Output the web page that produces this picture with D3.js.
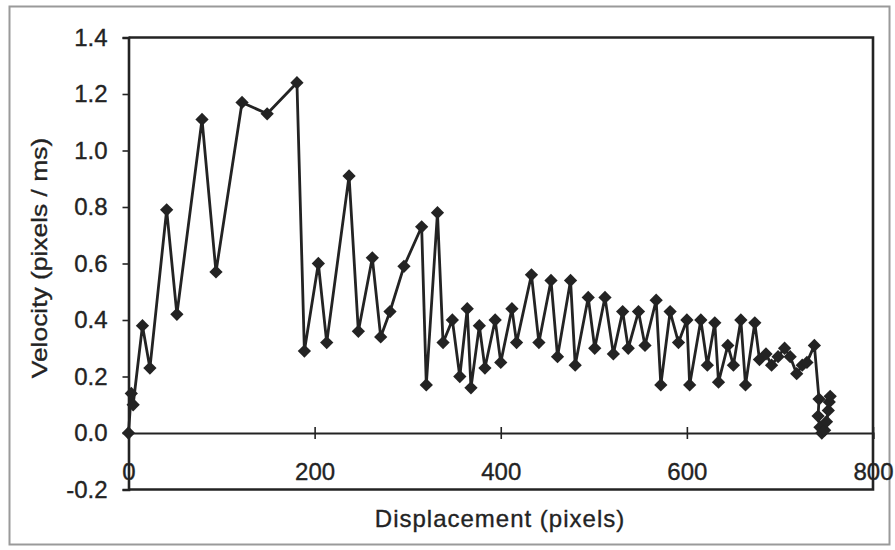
<!DOCTYPE html>
<html>
<head>
<meta charset="utf-8">
<script src="https://cdn.jsdelivr.net/npm/d3@7"></script>
<style>
  html, body { margin: 0; padding: 0; background: #fff; }
  svg { display: block; font-family: "Liberation Sans", Arial, sans-serif; }
</style>
</head>
<body>
<svg id="chart" width="895" height="550"></svg>
<script>
// ---- data ----
const displacement = [
  0, 3, 5, 15, 23, 41, 52, 79, 94, 122, 149, 181, 189, 204, 213, 237, 247, 262, 271, 281,
  296, 315, 320, 332, 338, 348, 356, 364, 368, 377, 383, 394, 400, 412, 417, 433, 441, 454,
  461, 475, 480, 494, 501, 512, 521, 531, 537, 548, 555, 567, 572, 582, 591, 600, 603, 615,
  622, 630, 634, 644, 650, 658, 663, 673, 678, 685, 691, 698, 705, 711, 718, 724, 729, 737,
  742, 741, 743, 745, 748, 750, 752, 753, 754
];
const velocity = [
  0.00, 0.14, 0.10, 0.38, 0.23, 0.79, 0.42, 1.11, 0.57, 1.17, 1.13, 1.24, 0.29, 0.60, 0.32, 0.91, 0.36, 0.62, 0.34, 0.43,
  0.59, 0.73, 0.17, 0.78, 0.32, 0.40, 0.20, 0.44, 0.16, 0.38, 0.23, 0.40, 0.25, 0.44, 0.32, 0.56, 0.32, 0.54,
  0.27, 0.54, 0.24, 0.48, 0.30, 0.48, 0.28, 0.43, 0.30, 0.43, 0.31, 0.47, 0.17, 0.43, 0.32, 0.40, 0.17, 0.40,
  0.24, 0.39, 0.18, 0.31, 0.24, 0.40, 0.17, 0.39, 0.26, 0.28, 0.24, 0.27, 0.30, 0.27, 0.21, 0.24, 0.25, 0.31,
  0.12, 0.06, 0.02, 0.00, 0.01, 0.04, 0.08, 0.11, 0.13
];
const xTicks = [0, 200, 400, 600, 800];
const yTicks = [-0.2, 0.0, 0.2, 0.4, 0.6, 0.8, 1.0, 1.2, 1.4];
const xTitle = "Displacement (pixels)";
const yTitle = "Velocity (pixels / ms)";

// ---- drawing ----
const svg = d3.select("#chart");
const ink = "#232323";
const fontFam = "'Liberation Sans', Arial, sans-serif";

const x = d3.scaleLinear().domain([0, 800]).range([128.5, 873]);
const y = d3.scaleLinear().domain([-0.2, 1.4]).range([489.5, 37.5]);

// outer chart border
svg.append("rect")
  .attr("x", 9.5).attr("y", 6.5).attr("width", 880).attr("height", 538)
  .attr("fill", "none").attr("stroke", "#9a9a9a").attr("stroke-width", 2);

// plot frame (top, right, bottom)
const [x0, x1] = x.range();
const [yb, yt] = y.range();
svg.append("path")
  .attr("d", `M${x0},${yt}H${x1}V${yb}H${x0}`)
  .attr("fill", "none").attr("stroke", ink).attr("stroke-width", 2.6);

// y axis
const yAxis = svg.append("g")
  .attr("transform", `translate(${x0},0)`)
  .call(d3.axisLeft(y).tickValues(yTicks).tickFormat(d3.format(".1f")).tickSize(6).tickPadding(15));
yAxis.select(".domain").attr("stroke", ink).attr("stroke-width", 2.6);
yAxis.selectAll(".tick line").attr("stroke", ink).attr("stroke-width", 1.6);
yAxis.selectAll(".tick text")
  .attr("font-size", 24).attr("fill", ink).attr("stroke", ink).attr("stroke-width", 0.35)
  .attr("font-family", fontFam)
  .text(d => d3.format(".1f")(d).replace("−", "-"));

// x axis at y = 0
const xAxis = svg.append("g")
  .attr("transform", `translate(0,${y(0)})`)
  .call(d3.axisBottom(x).tickValues(xTicks).tickFormat(d3.format("d")).tickSize(6).tickPadding(24));
xAxis.select(".domain").attr("stroke", ink).attr("stroke-width", 2.2);
xAxis.selectAll(".tick line").attr("y1", -6).attr("y2", 6).attr("stroke", ink).attr("stroke-width", 1.6);
xAxis.selectAll(".tick text")
  .attr("font-size", 24).attr("fill", ink).attr("stroke", ink).attr("stroke-width", 0.35)
  .attr("font-family", fontFam);

// axis titles
svg.append("text")
  .attr("x", 500).attr("y", 527)
  .attr("text-anchor", "middle")
  .attr("font-size", 24).attr("letter-spacing", 1)
  .attr("fill", ink).attr("stroke", ink).attr("stroke-width", 0.35)
  .text(xTitle);

svg.append("text")
  .attr("transform", "translate(47,258) rotate(-90) scale(1.2,1)")
  .attr("text-anchor", "middle")
  .attr("font-size", 22)
  .attr("fill", ink).attr("stroke", ink).attr("stroke-width", 0.35)
  .text(yTitle);

// series line
const pts = displacement.map((d, i) => [d, velocity[i]]);
svg.append("path")
  .datum(pts)
  .attr("fill", "none")
  .attr("stroke", ink)
  .attr("stroke-width", 2.8)
  .attr("stroke-linejoin", "round")
  .attr("d", d3.line().x(d => x(d[0])).y(d => y(d[1])));

// diamond markers
const diamond = d3.symbol().type(d3.symbolSquare).size(88);
svg.append("g").selectAll("path")
  .data(pts)
  .join("path")
  .attr("d", diamond)
  .attr("transform", d => `translate(${x(d[0])},${y(d[1])}) rotate(45)`)
  .attr("fill", ink);
</script>
</body>
</html>
